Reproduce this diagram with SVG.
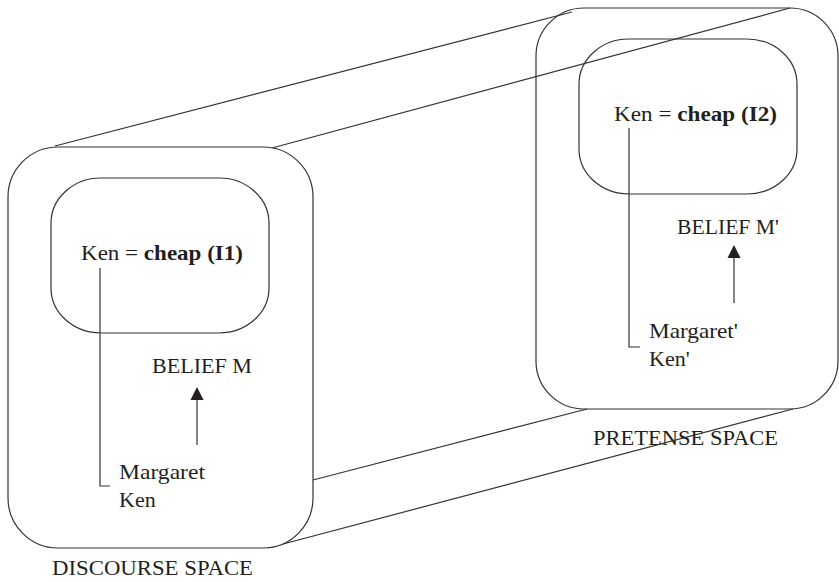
<svg xmlns="http://www.w3.org/2000/svg" width="839" height="582" viewBox="0 0 839 582">
  <style>
    .box { fill: #fff; stroke: #333; stroke-width: 1.2; }
    .edge { fill: none; stroke: #333; stroke-width: 1.2; }
    .txt { font-family: "Liberation Serif", "Times New Roman", serif; font-size: 22px; fill: #231f20; }
    .b { font-weight: bold; }
    .head { fill: #231f20; stroke: none; }
  </style>
  <rect width="839" height="582" fill="#fff"/>

  <!-- back space -->
  <g id="pretense-space">
    <rect class="box" x="536" y="8" width="302" height="401" rx="48" ry="48"/>
    <text class="txt" x="593" y="445" textLength="185" lengthAdjust="spacingAndGlyphs">PRETENSE SPACE</text>
  </g>

  <!-- depth edges joining the two spaces -->
  <g id="connectors">
    <line class="edge" x1="55" y1="146" x2="572" y2="12"/>
    <line class="edge" x1="272" y1="148" x2="790" y2="8"/>
    <line class="edge" x1="313" y1="480" x2="587" y2="409"/>
    <line class="edge" x1="268" y1="548" x2="793" y2="409"/>
    <polyline class="edge" points="629,128 629,347 640,347"/>
    <line class="edge" x1="734" y1="303" x2="734" y2="256"/>
    <polygon class="head" points="727.5,258 740.5,258 734,245"/>
  </g>

  <g id="pretense-inner">
    <rect class="box" x="579" y="39" width="218" height="155" rx="50" ry="45" style="fill:none"/>
    <text class="txt" x="614" y="121" textLength="163" lengthAdjust="spacingAndGlyphs">Ken = <tspan class="b">cheap (I2)</tspan></text>
  </g>
  <g id="belief-m-prime">
    <text class="txt" x="677" y="234" textLength="102" lengthAdjust="spacingAndGlyphs">BELIEF M'</text>
  </g>
  <g id="counterparts-prime">
    <text class="txt" x="649" y="338" textLength="89" lengthAdjust="spacingAndGlyphs">Margaret'</text>
    <text class="txt" x="649" y="366">Ken'</text>
  </g>

  <!-- front space -->
  <g id="discourse-space">
    <rect class="box" x="8" y="147" width="305" height="401" rx="50" ry="50"/>
    <text class="txt" x="52" y="575" textLength="201" lengthAdjust="spacingAndGlyphs">DISCOURSE SPACE</text>
  </g>
  <g id="discourse-inner">
    <rect class="box" x="51" y="178" width="218" height="155" rx="50" ry="45"/>
    <text class="txt" x="81" y="260" textLength="162" lengthAdjust="spacingAndGlyphs">Ken = <tspan class="b">cheap (I1)</tspan></text>
  </g>
  <g id="belief-m">
    <text class="txt" x="152" y="373" textLength="100" lengthAdjust="spacingAndGlyphs">BELIEF M</text>
  </g>
  <g id="counterparts">
    <text class="txt" x="119" y="479" textLength="86" lengthAdjust="spacingAndGlyphs">Margaret</text>
    <text class="txt" x="119" y="507">Ken</text>
  </g>
  <g id="front-links">
    <polyline class="edge" points="100,268 100,486 110,486"/>
    <line class="edge" x1="197" y1="445" x2="197" y2="398"/>
    <polygon class="head" points="190.5,400 203.5,400 197,387"/>
  </g>
</svg>
